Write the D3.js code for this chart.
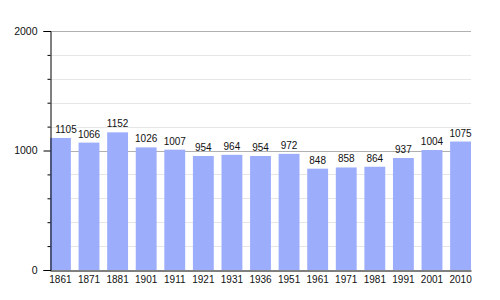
<!DOCTYPE html>
<html>
<head>
<meta charset="utf-8">
<script src="https://cdn.jsdelivr.net/npm/d3@7"></script>
<style>
  body { margin: 0; background: #fff; }
  text { font-family: "Liberation Sans", Arial, sans-serif; fill: #111; }
</style>
</head>
<body>
<svg id="chart"></svg>
<script>
// data
var years = ["1861", "1871", "1881", "1901", "1911", "1921", "1931", "1936", "1951", "1961", "1971", "1981", "1991", "2001", "2010"];
var population = [1105, 1066, 1152, 1026, 1007, 954, 964, 954, 972, 848, 858, 864, 937, 1004, 1075];
var majorTicks = [0, 1000, 2000];
var minorTicks = [200, 400, 600, 800, 1200, 1400, 1600, 1800];

var width = 500, height = 300;
var plotLeft = 50, plotRight = 471, plotTop = 31, plotBottom = 270;

var svg = d3.select("#chart")
    .attr("width", width)
    .attr("height", height);

var x = d3.scaleBand()
    .domain(years)
    .range([plotLeft, plotRight])
    .paddingInner(0.27)
    .paddingOuter(0);

var y = d3.scaleLinear()
    .domain([0, 2000])
    .range([plotBottom, plotTop]);

// grid
svg.append("g").selectAll("line")
    .data(minorTicks)
    .enter().append("line")
    .attr("x1", plotLeft).attr("x2", plotRight)
    .attr("y1", function(d) { return Math.round(y(d)) + 0.5; })
    .attr("y2", function(d) { return Math.round(y(d)) + 0.5; })
    .attr("stroke", "#e6e6e6");

svg.append("g").selectAll("line")
    .data(majorTicks.slice(1))
    .enter().append("line")
    .attr("x1", plotLeft).attr("x2", plotRight)
    .attr("y1", function(d) { return Math.round(y(d)) + 0.5; })
    .attr("y2", function(d) { return Math.round(y(d)) + 0.5; })
    .attr("stroke", "#b0b0b0");

// bars
svg.append("g").selectAll("rect")
    .data(population)
    .enter().append("rect")
    .attr("x", function(d, i) { return x(years[i]); })
    .attr("y", function(d) { return y(d); })
    .attr("width", x.bandwidth())
    .attr("height", function(d) { return plotBottom - y(d); })
    .attr("fill", "#9cadfb");

// value labels
svg.append("g").selectAll("text")
    .data(population)
    .enter().append("text")
    .attr("x", function(d, i) { return Math.max(x(years[i]) + x.bandwidth() / 2, plotLeft + 16); })
    .attr("y", function(d) { return y(d) - 5; })
    .attr("text-anchor", "middle")
    .attr("font-size", "10px")
    .text(function(d) { return d; });

// y axis
var yAxis = d3.axisLeft(y)
    .tickValues(majorTicks)
    .tickSize(7)
    .tickPadding(6)
    .tickFormat(d3.format("d"));

var gy = svg.append("g")
    .attr("transform", "translate(" + (plotLeft + 0.5) + ",0)")
    .call(yAxis);
gy.select(".domain").attr("stroke", "#000");
gy.selectAll(".tick line").attr("stroke", "#000");
gy.selectAll(".tick text").attr("font-size", "10.5px").attr("font-family", null).style("fill", "#111");

var gyMinor = svg.append("g")
    .attr("transform", "translate(" + (plotLeft + 0.5) + ",0)")
    .call(d3.axisLeft(y).tickValues(minorTicks).tickSize(3).tickFormat(""));
gyMinor.select(".domain").remove();
gyMinor.selectAll(".tick line").attr("stroke", "#000");

// x axis
var xAxis = d3.axisBottom(x)
    .tickSize(0)
    .tickPadding(5);

var gx = svg.append("g")
    .attr("transform", "translate(0," + (plotBottom + 0.5) + ")")
    .call(xAxis);
gx.select(".domain").attr("stroke", "#000");
gx.selectAll(".tick text").attr("font-size", "10px").attr("font-family", null).style("fill", "#111");
</script>
</body>
</html>
